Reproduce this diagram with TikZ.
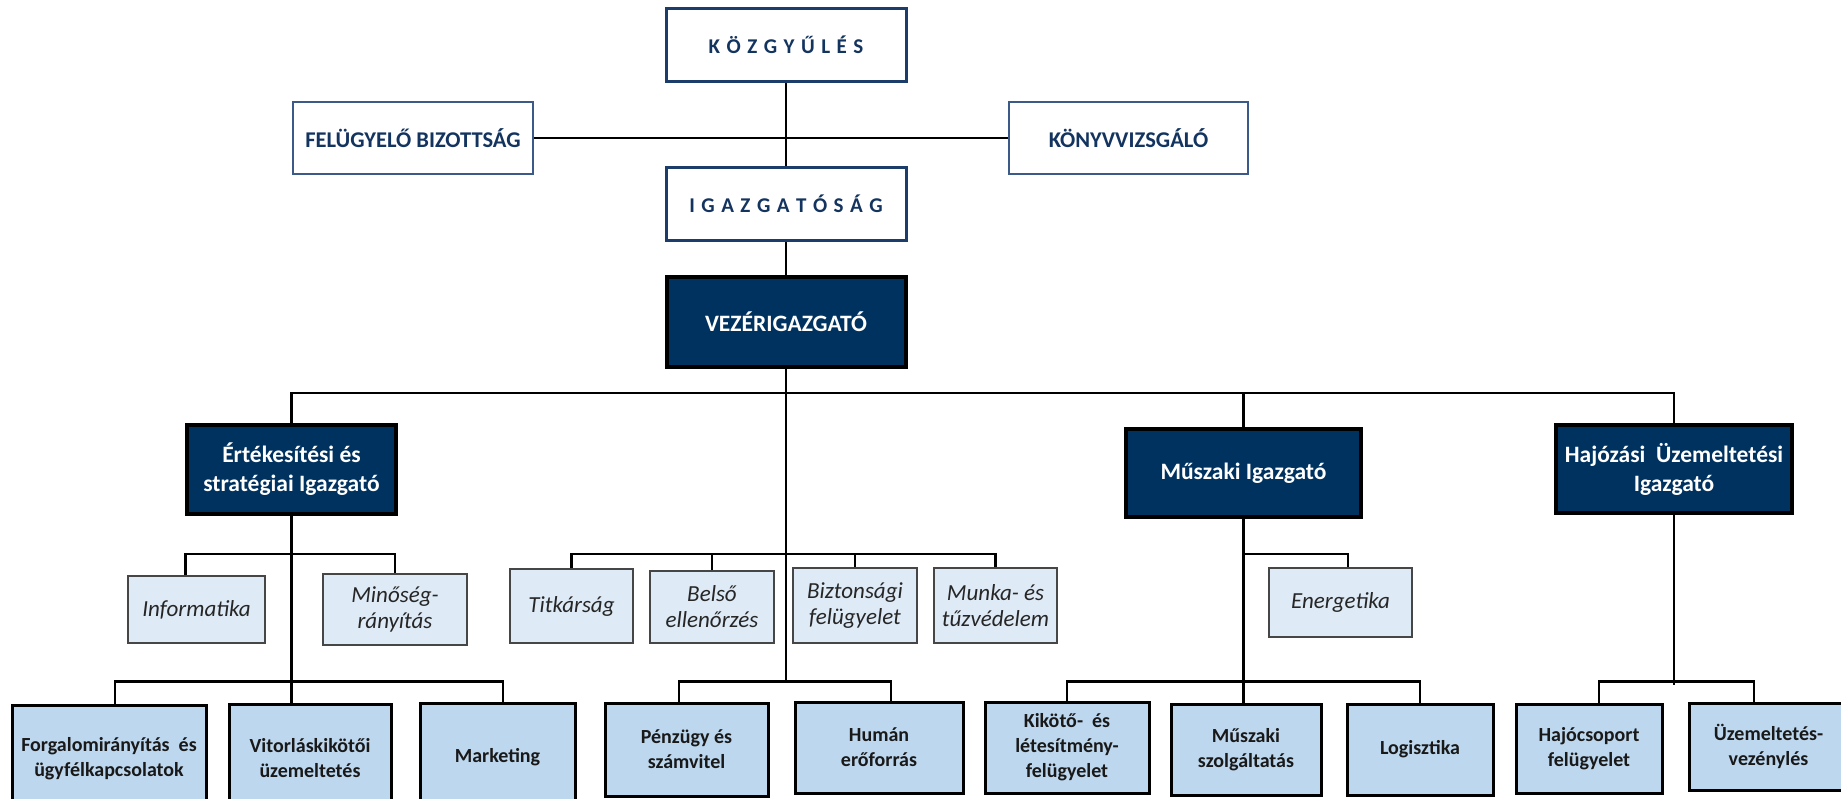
\documentclass[tikz,border=0pt]{standalone}
\usepackage{fontspec}
\setmainfont{Carlito}
\usetikzlibrary{backgrounds}
\definecolor{topnavy}{RGB}{28,60,105}
\definecolor{sidenavy}{RGB}{60,90,135}
\definecolor{textnavy}{RGB}{20,52,96}
\definecolor{darkfill}{RGB}{0,50,96}
\definecolor{botfill}{RGB}{189,215,238}
\definecolor{stafffill}{RGB}{222,234,246}
\definecolor{staffline}{RGB}{70,70,70}
\newcommand{\lsp}{\kern6.5pt}
\begin{document}
\begin{tikzpicture}[x=1pt,y=-1pt,
  box/.style={rectangle, inner sep=0pt, align=center},
  topbox/.style={box, draw=topnavy, line width=3pt, fill=white, text=textnavy,
    font=\fontsize{21}{24}\selectfont\bfseries},
  sidebox/.style={box, draw=sidenavy, line width=1.5pt, fill=white, text=textnavy,
    font=\fontsize{22.5}{25}\selectfont\bfseries},
  darkbox/.style={box, draw=black, line width=4pt, fill=darkfill, text=white,
    font=\fontsize{23.5}{29}\selectfont\bfseries},
  staffbox/.style={box, draw=staffline, line width=1.5pt, fill=stafffill, text=black!85,
    font=\fontsize{23}{26}\selectfont\itshape},
  botbox/.style={box, draw=black, line width=3pt, fill=botfill, text=black!90,
    font=\fontsize{20}{25}\selectfont\bfseries},
  conn/.style={draw=black, line width=2.4pt}
]
\clip (0,0) rectangle (1841,798);

% top level nodes
\node[topbox, minimum width=240pt, minimum height=73pt] (kozgy) at (786,44.5)
  {K\lsp Ö\lsp Z\lsp G\lsp Y\lsp Ű\lsp L\lsp É\lsp S};
\node[sidebox, minimum width=240pt, minimum height=72pt] (felugy) at (413,138)
  {FELÜGYELŐ BIZOTTSÁG};
\node[sidebox, minimum width=239pt, minimum height=72pt] (konyv) at (1128.5,138)
  {KÖNYVVIZSGÁLÓ};
\node[topbox, minimum width=240pt, minimum height=73pt] (igazg) at (786,203.5)
  {I\lsp G\lsp A\lsp Z\lsp G\lsp A\lsp T\lsp Ó\lsp S\lsp Á\lsp G};
\node[darkbox, minimum width=239pt, minimum height=90pt] (vezer) at (786,322)
  {VEZÉRIGAZGATÓ};

% directors
\node[darkbox, minimum width=209pt, minimum height=89pt] (ert) at (291.5,469.5)
  {Értékesítési és\\stratégiai Igazgató};
\node[darkbox, minimum width=235pt, minimum height=88pt] (musz) at (1243.5,473)
  {Műszaki Igazgató};
\node[darkbox, minimum width=236pt, minimum height=88pt] (hajo) at (1674,469)
  {Hajózási \ Üzemeltetési\\Igazgató};

% staff units
\node[staffbox, minimum width=137pt, minimum height=67pt] (info) at (196.5,609.5)
  {Informatika};
\node[staffbox, minimum width=144pt, minimum height=71pt] (minos) at (395,609.5)
  {Minőség-\\rányítás};
\node[staffbox, minimum width=123pt, minimum height=74pt] (titk) at (571.5,606)
  {Titkárság};
\node[staffbox, minimum width=124pt, minimum height=72pt] (belso) at (712,607)
  {Belső\\ellenőrzés};
\node[staffbox, minimum width=124pt, minimum height=75pt] (bizt) at (855,605.5)
  {Biztonsági\\felügyelet};
\node[staffbox, minimum width=123pt, minimum height=75pt] (munka) at (995.5,605.5)
  {Munka- és\\tűzvédelem};
\node[staffbox, minimum width=143pt, minimum height=69pt] (energ) at (1340.5,602.5)
  {Energetika};

% bottom units
\node[botbox, minimum width=194pt, minimum height=107pt] (forg) at (109,758.5)
  {Forgalomirányítás \ és\\ügyfélkapcsolatok};
\node[botbox, minimum width=162pt, minimum height=108pt] (vit) at (310,758)
  {Vitorláskikötői\\üzemeltetés};
\node[botbox, minimum width=155pt, minimum height=109pt] (mark) at (497.5,757.5)
  {Marketing};
\node[botbox, minimum width=163pt, minimum height=93pt] (penz) at (686.5,749.5)
  {Pénzügy és\\számvitel};
\node[botbox, minimum width=168pt, minimum height=91pt] (human) at (879,747.5)
  {Humán\\erőforrás};
\node[botbox, minimum width=164pt, minimum height=91pt] (kikoto) at (1067,747.5)
  {Kikötő- \ és\\létesítmény-\\felügyelet};
\node[botbox, minimum width=150pt, minimum height=91pt] (mszolg) at (1246,749.5)
  {Műszaki\\szolgáltatás};
\node[botbox, minimum width=146pt, minimum height=91pt] (logi) at (1420,749.5)
  {Logisztika};
\node[botbox, minimum width=146pt, minimum height=89pt] (hajocs) at (1589,748.5)
  {Hajócsoport\\felügyelet};
\node[botbox, minimum width=159pt, minimum height=87pt] (uzem) at (1768.5,746.5)
  {Üzemeltetés-\\vezénylés};

\coordinate (cbar) at (786,683);

\begin{scope}[on background layer]
\fill[white] (0,0) rectangle (1841,798);
% top structure
\draw[conn] (kozgy.south) -- (igazg.north);
\draw[conn] (felugy.east) -- (konyv.west);
\draw[conn] (igazg.south) -- (vezer.north);
\draw[conn] (ert.north) -- ++(0,-30) -| (hajo.north);
\draw[conn] (musz.north) -- ++(0,-34);
\draw[conn] (vezer.south) -- (cbar);
% sales staff + bottom
\draw[conn] ([xshift=-11pt]info.north) -- ++(0,-21) -| (minos.north);
\draw[conn] (ert.south) -- (ert.south |- vit.north);
\draw[conn] ([xshift=6pt]forg.north) -- ++(0,-22) -| ([xshift=5.5pt]mark.north);
% central staff
\draw[conn] (titk.north) -- ++(0,-14) -| (munka.north);
\draw[conn] (belso.north) -- ++(0,-16);
\draw[conn] (bizt.north) -- ++(0,-13);
% central bottom
\draw[conn] ([xshift=-7.5pt]penz.north) -- ++(0,-20) -| ([xshift=12pt]human.north);
% technical
\draw[conn] (musz.south) -- (musz.south |- mszolg.north);
\draw[conn] (musz.south |- energ.north) ++(0,-13) -| ([xshift=7.5pt]energ.north);
\draw[conn] (kikoto.north) -- ++(0,-19) -| (logi.north);
% shipping
\draw[conn] (hajo.south) -- ++(0,170);
\draw[conn] ([xshift=10pt]hajocs.north) -- ++(0,-21) -| ([xshift=-14.5pt]uzem.north);
\end{scope}
\end{tikzpicture}
\end{document}
